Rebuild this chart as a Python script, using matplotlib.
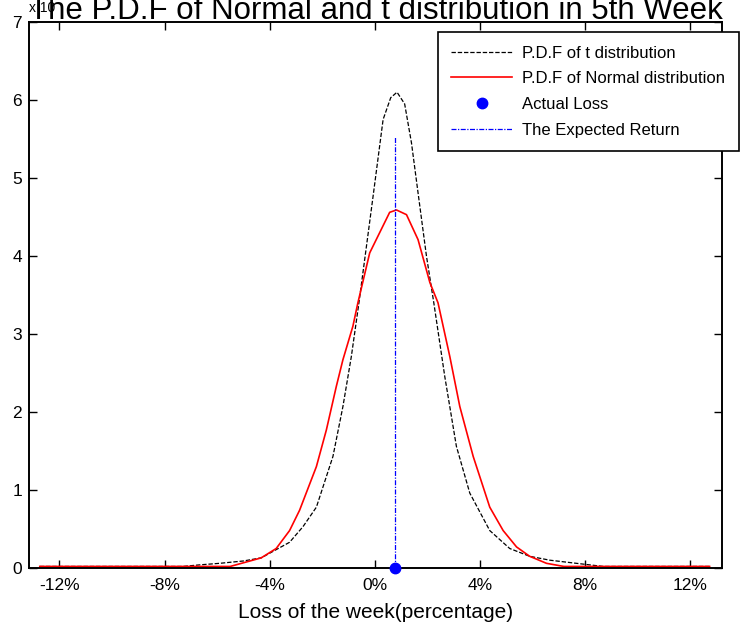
import numpy as np
from matplotlib import pyplot as plt

plt.rcParams['font.family'] = ['Liberation Sans', 'DejaVu Sans']

# ---------------- values (x in %, y in units of the axis) -------------
t_x = [-12.75, -7.3, -6.67, -5.9, -5.0, -4.32, -3.24, -2.73, -2.22, -1.59, -1.21, -0.89,
       -0.6, -0.06, 0.32, 0.61, 0.85, 1.14, 1.40, 1.65, 1.97, 2.25, 2.67, 3.11, 3.62,
       4.38, 5.14, 5.90, 6.67, 7.68, 8.7, 12.75]
t_pdf = [0.02, 0.02, 0.04, 0.06, 0.09, 0.13, 0.33, 0.53, 0.78, 1.43, 2.07, 2.71,
         3.40, 4.77, 5.75, 6.03, 6.10, 5.95, 5.45, 4.81, 4.00, 3.40, 2.45, 1.56, 0.96,
         0.48, 0.25, 0.15, 0.10, 0.06, 0.02, 0.02]

norm_x = [-12.75, -5.5, -4.32, -3.75, -3.24, -2.86, -2.22, -1.84, -1.46, -1.21, -0.83,
          -0.64, -0.19, 0.19, 0.57, 0.83, 1.21, 1.65, 2.10, 2.41, 2.86, 3.24, 3.75,
          4.38, 4.89, 5.40, 5.90, 6.54, 7.2, 12.75]
norm_pdf = [0.02, 0.02, 0.13, 0.25, 0.48, 0.74, 1.30, 1.77, 2.33, 2.67, 3.10,
            3.40, 4.04, 4.30, 4.56, 4.59, 4.53, 4.21, 3.66, 3.40, 2.71, 2.07, 1.43,
            0.78, 0.48, 0.27, 0.15, 0.06, 0.02, 0.02]

actual_loss = 0.77
expected_return = 0.77
expected_top = 5.52

x_ticks = [-12, -8, -4, 0, 4, 8, 12]
x_ticklabels = ['%d%%' % v for v in x_ticks]
y_ticks = [0, 1, 2, 3, 4, 5, 6, 7]

# ---------------- figure ----------------
fig = plt.figure(figsize=(7.42, 6.34), dpi=100)
ax = fig.add_axes([0.0391, 0.1041, 0.9339, 0.8612])

ax.plot(t_x, t_pdf, color='black', linewidth=0.9, dashes=(3.5, 1.5),
        label='P.D.F of t distribution')
ax.plot(norm_x, norm_pdf, color='red', linewidth=1.2,
        label='P.D.F of Normal distribution')
ax.plot([actual_loss], [0], 'o', color='blue', markersize=7.5, linestyle='none',
        clip_on=False, zorder=5, label='Actual Loss')
ax.plot([expected_return, expected_return], [0, expected_top], color='blue',
        linewidth=0.9, dashes=(4, 1.2, 1, 1.2), label='The Expected Return')

ax.set_xlim(-13.16, 13.22)
ax.set_ylim(0, 7)
ax.set_xticks(x_ticks)
ax.set_xticklabels(x_ticklabels)
ax.set_yticks(y_ticks)
ax.tick_params(direction='in', top=True, right=True, length=5.5, width=1,
               labelsize=12.5, pad=5)
ax.tick_params(axis='x', pad=7.5)
for s in ax.spines.values():
    s.set_linewidth(1.4)

ax.set_xlabel('Loss of the week(percentage)', fontsize=15, labelpad=7)

fig.text(0.506, 1 - 19 / 634, 'The P.D.F of Normal and t distribution in 5th Week',
         ha='center', va='baseline', fontsize=22.5)
fig.text(29 / 742, 1 - 12 / 634, 'x 10', ha='left', va='baseline', fontsize=10)

leg = fig.legend(loc='upper left', bbox_to_anchor=(438 / 742, 1 - 32.3 / 634),
                 bbox_transform=fig.transFigure, borderaxespad=0, fontsize=12,
                 handlelength=3.65, handletextpad=0.6, labelspacing=0.64,
                 borderpad=0.8, fancybox=False, framealpha=1, edgecolor='black')
leg.get_frame().set_linewidth(1.2)

fig.savefig('out.png', dpi=100)
